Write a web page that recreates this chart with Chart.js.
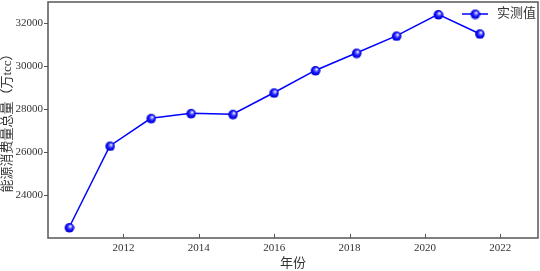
<!DOCTYPE html>
<html>
<head>
<meta charset="utf-8">
<script src="https://cdn.jsdelivr.net/npm/chart.js@4/dist/chart.umd.min.js"></script>
<style>
  html, body { margin: 0; padding: 0; background: #fff; }
  #wrap { width: 540px; height: 271px; }
</style>
</head>
<body>
<div id="wrap"><canvas id="energyChart" width="540" height="271"></canvas></div>
<script>
// données
const years = [2010.56, 2011.64, 2012.73, 2013.79, 2014.9, 2015.99, 2017.09, 2018.18, 2019.24, 2020.35, 2021.45];
const consumption = [22490, 26290, 27580, 27810, 27770, 28770, 29810, 30620, 31420, 32420, 31520];
const xTicks = [2012, 2014, 2016, 2018, 2020, 2022];
const yTicks = [24000, 26000, 28000, 30000, 32000];
const seriesLabel = '实测值';
const xTitle = '年份';
const yTitle = '能源消费量总量（万tcc）';

const FONT = "'Liberation Serif', 'Noto Sans CJK SC', serif";
const FRAME = '#555';

// marqueur "sphère" bleue
function makeBall(r) {
    const s = r * 2 + 2;
    const c = document.createElement('canvas');
    c.width = s; c.height = s;
    const g = c.getContext('2d');
    const cx = s / 2, cy = s / 2;
    const grad = g.createRadialGradient(cx + r * 0.25, cy - r * 0.35, 0.3, cx, cy, r);
    grad.addColorStop(0, '#ffffff');
    grad.addColorStop(0.3, '#6a6aff');
    grad.addColorStop(0.6, '#1010ff');
    grad.addColorStop(1, '#0000c8');
    g.fillStyle = grad;
    g.beginPath();
    g.arc(cx, cy, r, 0, Math.PI * 2);
    g.fill();
    return c;
}
const ball = makeBall(4.8);

const framePlugin = {
    id: 'frame',
    afterDraw(chart) {
        const { ctx, chartArea: a, scales } = chart;
        ctx.save();
        // ticks x vers l'intérieur
        ctx.strokeStyle = FRAME;
        ctx.lineWidth = 1;
        xTicks.forEach(v => {
            const px = Math.round(scales.x.getPixelForValue(v)) + 0.5;
            ctx.beginPath();
            ctx.moveTo(px, a.bottom);
            ctx.lineTo(px, a.bottom - 4);
            ctx.stroke();
        });
        // cadre
        ctx.lineWidth = 1.5;
        ctx.strokeRect(a.left, a.top, a.right - a.left, a.bottom - a.top);
        // légende
        const ly = a.top + 12;
        ctx.strokeStyle = '#0000ff';
        ctx.lineWidth = 1.5;
        ctx.beginPath();
        ctx.moveTo(a.right - 76, ly);
        ctx.lineTo(a.right - 50, ly);
        ctx.stroke();
        ctx.drawImage(ball, a.right - 63 - ball.width / 2, ly - ball.height / 2);
        ctx.fillStyle = '#333';
        ctx.font = "13px " + FONT;
        ctx.textBaseline = 'middle';
        ctx.textAlign = 'left';
        ctx.fillText(chart.data.datasets[0].label, a.right - 41, ly);
        ctx.restore();
    }
};

new Chart(document.getElementById('energyChart'), {
    type: 'line',
    data: {
        datasets: [{
            label: seriesLabel,
            data: years.map((x, i) => ({ x: x, y: consumption[i] })),
            borderColor: '#0000ff',
            borderWidth: 1.5,
            pointStyle: ball,
            pointRadius: 4.8,
            tension: 0
        }]
    },
    options: {
        responsive: false,
        animation: false,
        layout: { autoPadding: false, padding: { top: 2, right: 2, left: 0, bottom: 0 } },
        plugins: {
            legend: { display: false },
            tooltip: { enabled: false }
        },
        scales: {
            x: {
                type: 'linear',
                min: 2010,
                max: 2023,
                afterBuildTicks: s => { s.ticks = xTicks.map(v => ({ value: v })); },
                afterFit: s => { s.height = 33; s.paddingLeft = 0; s.paddingRight = 0; },
                grid: { display: true, drawOnChartArea: false, drawTicks: false, color: FRAME },
                border: { display: false },
                ticks: { color: '#333', font: { family: FONT, size: 11 }, padding: 4, maxRotation: 0,
                         callback: v => String(v) },
                title: { display: true, text: xTitle, color: '#333', font: { family: FONT, size: 13 }, padding: 0 }
            },
            y: {
                min: 22000,
                max: 33000,
                afterBuildTicks: s => { s.ticks = yTicks.map(v => ({ value: v })); },
                afterFit: s => { s.width = 48; s.paddingTop = 0; s.paddingBottom = 0; },
                grid: { display: true, drawOnChartArea: false, drawTicks: true, tickLength: 4, color: FRAME },
                border: { display: false },
                ticks: { color: '#333', font: { family: FONT, size: 11 }, padding: 1,
                         callback: v => String(v) },
                title: { display: true, text: yTitle, color: '#333', font: { family: FONT, size: 13 }, padding: 0 }
            }
        }
    },
    plugins: [framePlugin]
});
</script>
</body>
</html>
